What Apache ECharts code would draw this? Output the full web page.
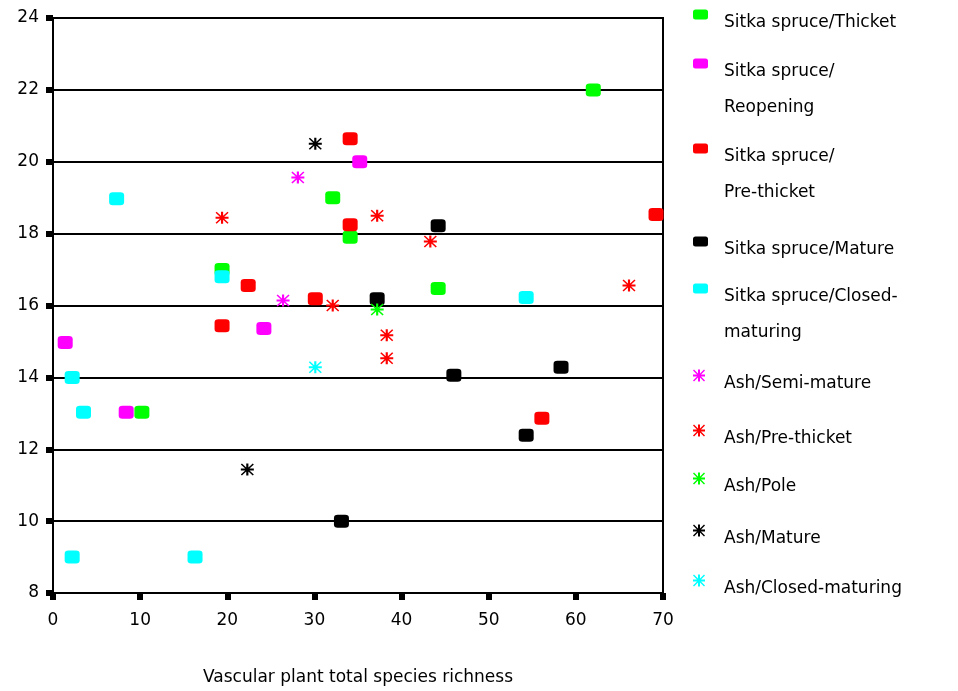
<!DOCTYPE html>
<html>
<head>
<meta charset="utf-8">
<script src="https://cdn.jsdelivr.net/npm/echarts@6/dist/echarts.min.js"></script>
<style>
html,body{margin:0;padding:0;background:#fff;}
#chart{width:958px;height:691px;}
</style>
</head>
<body>
<div id="chart"></div>
<script>
// ---- data ----
const seriesNames = [
  'Sitka spruce/Thicket', 'Sitka spruce/Reopening', 'Sitka spruce/Pre-thicket',
  'Sitka spruce/Mature', 'Sitka spruce/Closed-maturing',
  'Ash/Semi-mature', 'Ash/Pre-thicket', 'Ash/Pole', 'Ash/Mature', 'Ash/Closed-maturing'
];
const legendLabels = [
  ['Sitka spruce/Thicket'], ['Sitka spruce/', 'Reopening'], ['Sitka spruce/', 'Pre-thicket'],
  ['Sitka spruce/Mature'], ['Sitka spruce/Closed-', 'maturing'],
  ['Ash/Semi-mature'], ['Ash/Pre-thicket'], ['Ash/Pole'], ['Ash/Mature'], ['Ash/Closed-maturing']
];
const spruceThicket = [[62, 22], [32.1, 19], [34.1, 17.9], [19.4, 17.0], [44.2, 16.47], [10.2, 13.03]];
const spruceReopening = [[35.2, 20], [1.4, 14.97], [24.2, 15.36], [8.4, 13.03]];
const sprucePreThicket = [[34.1, 20.64], [34.1, 18.25], [69.2, 18.53], [22.4, 16.56], [30.1, 16.19], [19.4, 15.44], [56.1, 12.86]];
const spruceMature = [[44.2, 18.22], [37.2, 16.19], [46, 14.06], [58.3, 14.28], [54.3, 12.39], [33.1, 10]];
const spruceClosed = [[7.3, 18.97], [19.4, 16.8], [54.3, 16.22], [2.2, 14], [3.5, 13.03], [2.2, 9], [16.3, 9]];
const ashSemiMature = [[28.1, 19.56], [26.4, 16.14]];
const ashPreThicket = [[19.4, 18.44], [37.2, 18.5], [43.3, 17.78], [66.1, 16.56], [32.1, 16], [38.3, 15.17], [38.3, 14.53]];
const ashPole = [[37.2, 15.89]];
const ashMature = [[30.1, 20.5], [22.3, 11.44]];
const ashClosed = [[30.1, 14.28]];
const xTicks = [0, 10, 20, 30, 40, 50, 60, 70];
const yTicks = [8, 10, 12, 14, 16, 18, 20, 22, 24];
const xTitle = 'Vascular plant total species richness';

// ---- styling / layout ----
const allData = [spruceThicket, spruceReopening, sprucePreThicket, spruceMature, spruceClosed,
  ashSemiMature, ashPreThicket, ashPole, ashMature, ashClosed];
const colors = ['#00ff00', '#ff00ff', '#ff0000', '#000000', '#00ffff',
  '#ff00ff', '#ff0000', '#00ff00', '#000000', '#00ffff'];
const legendTops = [-4, 19, 104, 223, 244, 357, 412, 460, 512, 562];
const FONT = 'DejaVu Sans';
const FS = 17;
const asterisk = 'path://M0 5L12 5L12 7L0 7Z M5 0L7 0L7 12L5 12Z M0 1L1 0L12 11L11 12Z M11 0L12 1L1 12L0 11Z';

const series = seriesNames.map((name, i) => {
  const ash = i >= 5;
  return {
    name: name,
    type: 'scatter',
    data: allData[i],
    symbol: ash ? asterisk : 'roundRect',
    symbolSize: ash ? [13, 12] : [15, 13],
    itemStyle: { color: colors[i], opacity: 1 },
    z: 2 + i
  };
});

const legends = seriesNames.map((name, i) => {
  const ash = i >= 5;
  const lines = legendLabels[i];
  const two = lines.length > 1;
  return {
    data: [name],
    left: 693,
    top: legendTops[i],
    padding: 0,
    orient: 'vertical',
    itemWidth: ash ? 12 : 15,
    itemHeight: ash ? 12 : 10,
    itemGap: 0,
    selectedMode: false,
    formatter: function () {
      return two ? '{e2| }\n{b|' + lines[0] + '}\n{b|' + lines[1] + '}'
                 : '{e| }\n{a|' + lines[0] + '}';
    },
    textStyle: {
      fontFamily: FONT, fontSize: FS, color: '#000', padding: [0, 0, 0, ash ? 14 : 11],
      rich: {
        e: { lineHeight: 16, fontSize: FS, fontFamily: FONT },
        e2: { lineHeight: 52, fontSize: FS, fontFamily: FONT },
        a: { lineHeight: 20, fontSize: FS, fontFamily: FONT, color: '#000' },
        b: { lineHeight: 36, fontSize: FS, fontFamily: FONT, color: '#000' }
      }
    }
  };
});

const chart = echarts.init(document.getElementById('chart'), null, { renderer: 'canvas' });
chart.setOption({
  animation: false,
  backgroundColor: '#fff',
  grid: { left: 53, right: 295, top: 18, bottom: 97, show: true, borderColor: '#000', borderWidth: 2, backgroundColor: 'transparent' },
  legend: legends,
  xAxis: {
    type: 'value',
    min: xTicks[0], max: xTicks[xTicks.length - 1], interval: 10,
    name: xTitle, nameLocation: 'middle', nameGap: 76,
    nameTextStyle: { fontFamily: FONT, fontSize: FS, color: '#000' },
    axisLine: { show: true, lineStyle: { color: '#000', width: 2 } },
    axisTick: { show: true, length: 7, lineStyle: { color: '#000', width: 6 } },
    axisLabel: { fontFamily: FONT, fontSize: FS, color: '#000', margin: 19 },
    splitLine: { show: false }
  },
  yAxis: {
    type: 'value',
    min: yTicks[0], max: yTicks[yTicks.length - 1], interval: 2,
    axisLine: { show: true, lineStyle: { color: '#000', width: 2 } },
    axisTick: { show: true, length: 7, lineStyle: { color: '#000', width: 6 } },
    axisLabel: { fontFamily: FONT, fontSize: FS, color: '#000', margin: 14 },
    splitLine: { show: true, lineStyle: { color: '#000', width: 2 } }
  },
  series: series
});
</script>
</body>
</html>
